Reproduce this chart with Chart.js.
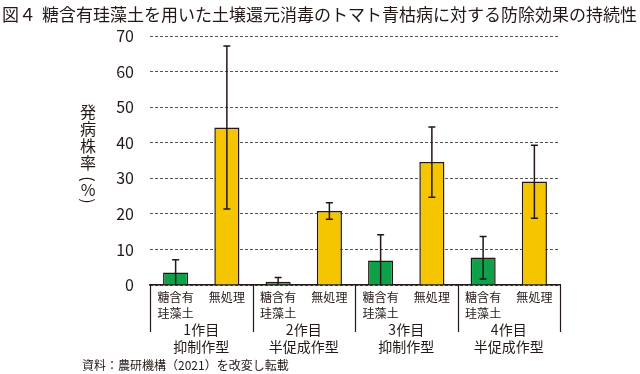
<!DOCTYPE html>
<html>
<head>
<meta charset="utf-8">
<script src="https://cdn.jsdelivr.net/npm/chart.js@4"></script>
<style>
  html, body { margin: 0; padding: 0; background: #fff; }
  #wrap { width: 640px; height: 374px; }
</style>
</head>
<body>
<div id="wrap"><canvas id="myChart" width="640" height="374"></canvas></div>
<script>
const titlePrefix = '図４';
const titleText = '糖含有珪藻土を用いた土壌還元消毒のトマト青枯病に対する防除効果の持続性';
const yTitleChars = ['発', '病', '株', '率', '(', '%', ')'];
const sourceText = '資料：農研機構（2021）を改変し転載';

const treatLabels = [['糖含有', '珪藻土'], ['無処理']];
const groupLabels = [['1作目', '抑制作型'], ['2作目', '半促成作型'], ['3作目', '抑制作型'], ['4作目', '半促成作型']];

const treated = [3.5, 0.9, 6.9, 7.7];
const treatedLow = [0, 0, 0, 1.7];
const treatedHigh = [7.1, 2.1, 14.1, 13.6];

const untreated = [44.3, 20.8, 34.6, 29.1];
const untreatedLow = [21.4, 18.5, 24.7, 18.8];
const untreatedHigh = [67.2, 23.1, 44.4, 39.3];

const yTicks = [0, 10, 20, 30, 40, 50, 60, 70];

const ink = '#231815';
const green = '#0fa04a';
const yellow = '#f5c500';
const font = '"Noto Sans CJK JP", "Noto Sans", sans-serif';

// 8 bars: treated / untreated for each crop
const labels = [];
const values = [];
const lows = [];
const highs = [];
const colors = [];
for (let i = 0; i < groupLabels.length; i++) {
  labels.push(treatLabels[0], treatLabels[1]);
  values.push(treated[i], untreated[i]);
  lows.push(treatedLow[i], untreatedLow[i]);
  highs.push(treatedHigh[i], untreatedHigh[i]);
  colors.push(green, yellow);
}

const extras = {
  id: 'extras',
  afterDatasetsDraw(chart) {
    const ctx = chart.ctx;
    const x = chart.scales.x;
    const y = chart.scales.y;
    ctx.save();
    ctx.strokeStyle = ink;
    ctx.lineWidth = 1.5;
    // error bars
    values.forEach((v, i) => {
      const cx = x.getPixelForValue(i);
      const yl = y.getPixelForValue(lows[i]);
      const yh = y.getPixelForValue(highs[i]);
      ctx.beginPath();
      ctx.moveTo(cx, yl);
      ctx.lineTo(cx, yh);
      ctx.moveTo(cx - 3.5, yh);
      ctx.lineTo(cx + 3.5, yh);
      if (lows[i] > 0) {
        ctx.moveTo(cx - 3.5, yl);
        ctx.lineTo(cx + 3.5, yl);
      }
      ctx.stroke();
    });
    // group separators
    const area = chart.chartArea;
    const step = (area.right - area.left) / groupLabels.length;
    ctx.lineWidth = 1.2;
    for (let i = 0; i <= groupLabels.length; i++) {
      const sx = Math.round(area.left + i * step) + 0.5;
      ctx.beginPath();
      ctx.moveTo(sx, area.bottom);
      ctx.lineTo(sx, area.bottom + 47);
      ctx.stroke();
    }
    ctx.fillStyle = ink;
    ctx.textBaseline = 'middle';
    // title (drawn here so it is not squeezed to the chart width)
    ctx.font = '17px ' + font;
    ctx.textAlign = 'left';
    ctx.fillText(titlePrefix, 2, 15);
    ctx.fillText(titleText, 42, 15);
    // vertical y title, brackets turned
    ctx.font = '16px ' + font;
    ctx.textAlign = 'center';
    const ys = [112, 129, 146, 163, 179, 190, 201];
    yTitleChars.forEach((c, i) => {
      if (c === '(' || c === ')') {
        ctx.save();
        ctx.translate(88, ys[i]);
        ctx.rotate(Math.PI / 2);
        ctx.fillText(c, 0, 0);
        ctx.restore();
      } else {
        ctx.fillText(c, 88, ys[i]);
      }
    });
    // source note
    ctx.font = '12px ' + font;
    ctx.textAlign = 'left';
    ctx.fillText(sourceText, 82, 365);
    ctx.restore();
  }
};

const chartEl = document.getElementById('myChart');

const myChart = new Chart(chartEl, {
  type: 'bar',
  data: {
    labels: labels,
    datasets: [
      {
        data: values,
        backgroundColor: colors,
        borderColor: ink,
        borderWidth: 1.5,
        categoryPercentage: 1,
        barPercentage: 0.49
      }
    ]
  },
  options: {
    responsive: false,
    animation: false,
    layout: { padding: { left: 0, right: 80, top: 36, bottom: 11 } },
    plugins: {
      legend: { display: false },
      tooltip: { enabled: false },
      title: { display: false }
    },
    scales: {
      y: {
        min: 0,
        max: 70,
        afterFit: (s) => { s.width = 150; },
        afterBuildTicks: (s) => { s.ticks = yTicks.map((v) => ({ value: v })); },
        ticks: {
          color: ink,
          padding: 16,
          font: { family: font, size: 16 }
        },
        grid: { color: '#555', lineWidth: 1, drawTicks: false },
        border: { display: false, dash: [3, 2] }
      },
      x: {
        afterFit: (s) => { s.height = 36; },
        ticks: {
          color: ink,
          padding: 4,
          maxRotation: 0,
          autoSkip: false,
          font: { family: font, size: 12, lineHeight: 1.33 }
        },
        grid: { display: false, drawTicks: false },
        border: { display: true, color: ink, width: 1.5 }
      },
      x2: {
        type: 'category',
        position: 'bottom',
        labels: groupLabels,
        afterFit: (s) => { s.height = 42; },
        ticks: {
          color: ink,
          padding: 0,
          maxRotation: 0,
          autoSkip: false,
          font: { family: font, size: 14, lineHeight: 1.2 }
        },
        grid: { display: false, drawTicks: false },
        border: { display: false }
      }
    }
  },
  plugins: [extras]
});
</script>
</body>
</html>
